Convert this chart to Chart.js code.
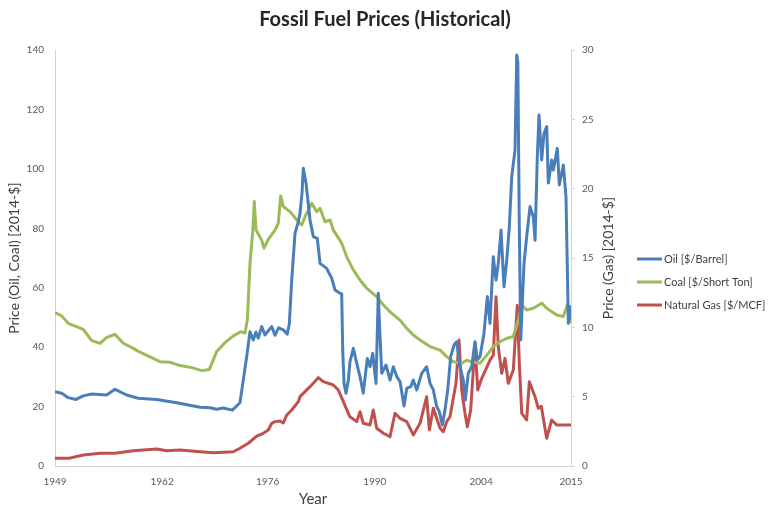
<!DOCTYPE html>
<html>
<head>
<meta charset="utf-8">
<script src="https://cdn.jsdelivr.net/npm/chart.js@4.4.1/dist/chart.umd.min.js"></script>
<style>
  html, body { margin: 0; padding: 0; background: #fff; }
  #wrap { width: 769px; height: 508px; }
</style>
</head>
<body>
<div id="wrap"><canvas id="fuelChart" width="769" height="508"></canvas></div>
<script>
const oilYears = [1949.0, 1949.86, 1950.7, 1951.69, 1952.62, 1953.69, 1955.61, 1956.67, 1958.17, 1959.65,
    1962.0, 1964.57, 1967.55, 1968.83, 1969.68, 1970.53, 1971.68, 1972.66, 1973.52, 1973.94,
    1974.36, 1974.7, 1975.0, 1975.44, 1975.86, 1976.28, 1976.72, 1977.14, 1977.6, 1978.2,
    1978.71, 1978.97, 1979.28, 1979.7, 1980.12, 1980.34, 1980.6, 1980.76, 1981.11, 1981.62,
    1982.04, 1982.55, 1982.9, 1983.75, 1984.39, 1984.82, 1985.45, 1985.67, 1985.8, 1985.97,
    1986.22, 1986.52, 1986.73, 1987.16, 1987.59, 1988.01, 1988.43, 1988.95, 1989.29, 1989.64,
    1990.06, 1990.35, 1990.55, 1990.79, 1991.34, 1991.85, 1992.27, 1992.71, 1993.13, 1993.64,
    1993.99, 1994.5, 1994.83, 1995.27, 1995.91, 1996.54, 1996.97, 1997.39, 1997.82, 1998.16,
    1998.54, 1998.88, 1999.23, 1999.61, 2000.04, 2000.38, 2000.8, 2001.23, 2001.48, 2001.86,
    2002.3, 2002.72, 2003.02, 2003.36, 2003.87, 2004.3, 2004.64, 2005.06, 2005.41, 2005.7,
    2006.05, 2006.43, 2006.78, 2007.11, 2007.42, 2007.84, 2008.06, 2008.2, 2008.39, 2008.57,
    2008.99, 2009.33, 2009.76, 2010.18, 2010.4, 2010.69, 2010.91, 2011.25, 2011.55, 2011.89,
    2012.1, 2012.53, 2012.74, 2013.25, 2013.5, 2014.02, 2014.36, 2014.66, 2014.87, 2015.0];
const oilPrices = [25.0, 24.5, 23.0, 22.4, 23.6, 24.2, 23.9, 25.8, 23.9, 22.8,
    22.4, 21.3, 19.8, 19.6, 19.1, 19.5, 18.8, 21.3, 36.8, 45.2,
    42.4, 45.0, 43.0, 46.9, 44.1, 45.5, 46.9, 44.0, 46.5, 45.8,
    44.4, 47.8, 62.6, 78.3, 82.2, 85.0, 92.0, 100.2, 95.2, 82.8,
    77.2, 76.6, 68.2, 66.5, 63.2, 59.2, 58.1, 58.0, 39.0, 27.8,
    24.5, 28.9, 35.1, 39.6, 34.6, 30.1, 24.5, 36.2, 33.4, 37.9,
    27.8, 58.1, 45.0, 31.2, 34.0, 28.9, 33.4, 30.1, 28.4, 20.2,
    26.1, 26.7, 28.9, 25.6, 31.2, 33.4, 27.8, 25.6, 20.0, 18.3,
    13.8, 18.8, 25.6, 36.8, 40.7, 41.8, 33.4, 28.9, 22.2, 31.2,
    33.4, 41.8, 35.7, 36.8, 44.6, 57.0, 48.0, 70.4, 62.6, 68.2,
    79.4, 60.3, 69.3, 80.5, 97.4, 106.4, 138.3, 136.0, 79.4, 42.4,
    68.2, 77.2, 87.3, 83.9, 76.0, 104.1, 118.1, 103.0, 112.0, 114.2,
    95.2, 103.0, 99.6, 106.9, 94.6, 101.3, 90.6, 48.0, 53.6, 49.1];

const coalYears = [1949.0, 1949.86, 1950.7, 1952.62, 1953.69, 1954.76, 1955.61, 1956.67, 1957.74, 1959.02,
    1959.87, 1962.43, 1963.71, 1964.99, 1966.49, 1967.76, 1968.74, 1969.68, 1970.74, 1971.81,
    1972.75, 1973.3, 1973.6, 1973.94, 1974.29, 1974.49, 1974.71, 1975.44, 1975.73, 1976.28,
    1977.14, 1977.56, 1977.87, 1978.2, 1979.06, 1979.92, 1980.56, 1980.98, 1981.83, 1982.47,
    1982.9, 1983.54, 1984.18, 1984.6, 1985.67, 1986.31, 1987.16, 1988.01, 1988.87, 1990.15,
    1991.0, 1991.85, 1993.13, 1993.99, 1994.83, 1995.69, 1996.97, 1998.25, 1999.1, 1999.95,
    2001.02, 2001.66, 2002.3, 2003.36, 2004.42, 2005.06, 2005.92, 2006.78, 2007.62, 2008.26,
    2008.7, 2009.33, 2010.18, 2011.25, 2011.89, 2013.17, 2014.02, 2014.53, 2015.0];
const coalPrices = [51.6, 50.5, 48.0, 46.0, 42.2, 41.3, 43.3, 44.3, 41.3, 39.6,
    38.3, 35.1, 34.9, 33.8, 33.1, 32.1, 32.5, 38.5, 41.5, 43.8,
    45.2, 44.7, 49.1, 68.2, 78.9, 89.0, 79.4, 76.0, 73.3, 76.3,
    79.4, 81.7, 90.9, 87.3, 85.6, 82.8, 81.1, 83.9, 88.4, 85.6,
    86.7, 82.2, 82.8, 79.4, 75.0, 70.4, 66.0, 62.6, 59.8, 57.0,
    54.2, 51.9, 49.1, 46.3, 44.1, 42.4, 40.2, 39.0, 36.8, 35.1,
    34.6, 35.6, 35.1, 34.6, 37.9, 40.2, 41.8, 43.0, 43.5, 49.1,
    54.2, 52.5, 53.1, 54.8, 53.1, 50.8, 50.3, 54.2, 48.0];

const gasYears = [1949.0, 1950.7, 1952.62, 1954.76, 1956.67, 1959.02, 1962.0, 1963.29, 1964.99, 1967.55,
    1969.25, 1971.81, 1972.66, 1973.72, 1974.8, 1975.64, 1976.28, 1976.72, 1977.14, 1977.78,
    1978.2, 1978.64, 1979.28, 1980.12, 1980.34, 1981.62, 1982.68, 1983.32, 1984.6, 1985.24,
    1985.88, 1986.52, 1986.73, 1987.59, 1988.01, 1988.43, 1989.29, 1989.71, 1990.15, 1991.0,
    1991.85, 1992.49, 1993.13, 1993.99, 1994.83, 1995.69, 1996.54, 1996.88, 1997.39, 1998.25,
    1998.67, 1999.1, 1999.52, 2000.29, 2000.68, 2001.02, 2001.44, 2001.74, 2002.17, 2002.72,
    2003.07, 2003.49, 2004.64, 2005.06, 2005.41, 2005.7, 2006.14, 2006.56, 2006.98, 2007.62,
    2008.13, 2008.39, 2008.7, 2009.33, 2009.67, 2010.4, 2010.82, 2011.2, 2011.89, 2012.53,
    2013.17, 2015.0];
const gasPrices = [0.55, 0.55, 0.79, 0.92, 0.92, 1.1, 1.23, 1.1, 1.15, 1.03,
    0.96, 1.03, 1.28, 1.64, 2.16, 2.36, 2.6, 3.08, 3.2, 3.25,
    3.1, 3.68, 4.04, 4.64, 5.0, 5.72, 6.37, 6.08, 5.84, 5.48,
    4.64, 3.8, 3.55, 3.2, 3.91, 3.08, 2.96, 4.04, 2.72, 2.36,
    2.11, 3.8, 3.44, 3.2, 2.24, 3.08, 5.0, 2.6, 4.16, 2.72,
    2.47, 3.2, 3.55, 5.96, 9.08, 5.48, 3.8, 2.83, 4.04, 8.85,
    5.48, 6.2, 7.64, 8.0, 12.2, 8.6, 6.68, 7.76, 5.96, 6.92,
    11.6, 7.4, 3.8, 3.32, 6.08, 5.0, 4.16, 4.3, 2.0, 3.32,
    2.96, 2.96];

const xTickValues = [1949, 1962.7, 1976.2, 1989.9, 2003.5, 2015];
const xTickLabels = ['1949', '1962', '1976', '1990', '2004', '2015'];
const seriesNames = ['Oil [$/Barrel]', 'Coal [$/Short Ton]', 'Natural Gas [$/MCF]'];
const seriesColors = ['#4a7ebb', '#9bbb59', '#c0504d'];
const chartTitle = 'Fossil Fuel Prices (Historical)';

const FONT = 'Lato, "Open Sans", sans-serif';
const AXIS_GRAY = '#d4d4d4';

const toPoints = (xs, ys) => xs.map((x, i) => ({ x: x, y: ys[i] }));

// title centred on the whole picture, right-hand axis title (reads bottom-to-top), legend
const sideBits = {
    id: 'sideBits',
    afterDraw(chart) {
        const ctx = chart.ctx;
        const area = chart.chartArea;

        ctx.save();
        ctx.fillStyle = '#262626';
        ctx.font = 'bold 20px ' + FONT;
        ctx.textAlign = 'center';
        ctx.textBaseline = 'middle';
        ctx.fillText(chartTitle, 385, 20);
        ctx.restore();

        ctx.save();
        ctx.fillStyle = '#404040';
        ctx.font = '14px ' + FONT;
        ctx.textAlign = 'center';
        ctx.textBaseline = 'middle';
        ctx.translate(608, (area.top + area.bottom) / 2);
        ctx.rotate(-Math.PI / 2);
        ctx.fillText('Price (Gas) [2014-$]', 0, 0);
        ctx.restore();

        ctx.save();
        ctx.font = '11px ' + FONT;
        ctx.textAlign = 'left';
        ctx.textBaseline = 'middle';
        chart.data.datasets.forEach((ds, i) => {
            const y = 259 + i * 23;
            ctx.strokeStyle = ds.borderColor;
            ctx.lineWidth = 3;
            ctx.beginPath();
            ctx.moveTo(637, y);
            ctx.lineTo(662, y);
            ctx.stroke();
            ctx.fillStyle = '#404040';
            ctx.fillText(ds.label, 664, y);
        });
        ctx.restore();
    }
};

const lineStyle = { borderWidth: 3, pointRadius: 0, tension: 0, borderJoinStyle: 'round', fill: false };

new Chart(document.getElementById('fuelChart'), {
    type: 'line',
    data: {
        datasets: [
            { ...lineStyle, label: seriesNames[0], data: toPoints(oilYears, oilPrices), borderColor: seriesColors[0], yAxisID: 'y' },
            { ...lineStyle, label: seriesNames[1], data: toPoints(coalYears, coalPrices), borderColor: seriesColors[1], yAxisID: 'y' },
            { ...lineStyle, label: seriesNames[2], data: toPoints(gasYears, gasPrices), borderColor: seriesColors[2], yAxisID: 'y2' }
        ]
    },
    options: {
        responsive: false,
        animation: false,
        layout: { padding: { left: 0, right: 140, top: 50, bottom: 0 } },
        plugins: {
            legend: { display: false },
            tooltip: { enabled: false },
            title: { display: false }
        },
        scales: {
            x: {
                type: 'linear', min: 1949, max: 2015,
                grid: { display: false },
                border: { display: true, color: AXIS_GRAY, width: 1 },
                afterBuildTicks: s => { s.ticks = xTickValues.map(v => ({ value: v })); },
                afterFit: s => { s.height = 42; },
                ticks: {
                    autoSkip: false, maxRotation: 0, padding: 2,
                    color: '#595959', font: { family: FONT, size: 10 },
                    callback: (v, i) => xTickLabels[i]
                },
                title: { display: true, text: 'Year', color: '#404040', font: { family: FONT, size: 15 }, padding: { top: 0, bottom: 0 } }
            },
            y: {
                position: 'left', min: 0, max: 140,
                grid: { display: false },
                border: { display: true, color: AXIS_GRAY, width: 1 },
                afterFit: s => { s.width = 55; },
                ticks: { stepSize: 20, color: '#595959', font: { family: FONT, size: 10 } },
                title: { display: true, text: 'Price (Oil, Coal) [2014-$]', color: '#404040', font: { family: FONT, size: 14 }, padding: { top: 6, bottom: 0 } }
            },
            y2: {
                position: 'right', min: 0, max: 30,
                grid: { display: true, drawOnChartArea: false, tickLength: 4, color: AXIS_GRAY },
                border: { display: true, color: AXIS_GRAY, width: 1 },
                afterFit: s => { s.width = 58; },
                ticks: { stepSize: 5, padding: 7, color: '#595959', font: { family: FONT, size: 10 } }
            }
        }
    },
    plugins: [sideBits]
});
</script>
</body>
</html>
